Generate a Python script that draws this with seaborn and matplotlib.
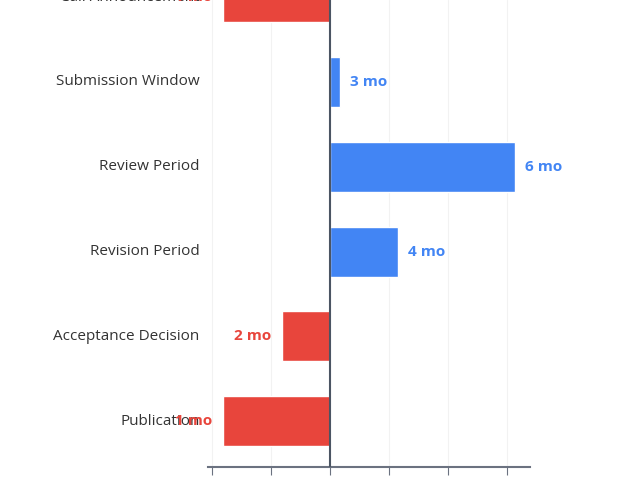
import pandas as pd
import seaborn as sns
import matplotlib.pyplot as plt

stages = ['Call Announcement', 'Submission Window', 'Review Period',
          'Revision Period', 'Acceptance Decision', 'Publication']
values = [-1.81, 0.17, 3.14, 1.15, -0.81, -1.81]
labels = ['1 mo', '3 mo', '6 mo', '4 mo', '2 mo', '1 mo']

df = pd.DataFrame({'stage': stages, 'value': values, 'label': labels})
red, blue = '#E8453C', '#4285F4'
df['color'] = [red if v < 0 else blue for v in values]

sns.set_style('white')
plt.rcParams['font.family'] = ['Open Sans', 'DejaVu Sans']

fig = plt.figure(figsize=(6.4, 4.8), dpi=100)
ax = fig.add_axes([0.325, 0.027, 0.503, 0.973])

sns.barplot(data=df, y='stage', x='value', hue='stage', palette=list(df['color']),
            orient='h', width=0.59, legend=False, ax=ax, saturation=1)

ax.set_xlim(-2.07, 3.39)
ax.set_ylim(5.54, 0.035)
ax.set_xticks([-2, -1, 0, 1, 2, 3])
ax.set_xticklabels([])
ax.tick_params(axis='x', length=6, color='#6b7280', direction='out', bottom=True)
ax.set_yticks([])
ax.grid(axis='x', color='#f2f2f2', linewidth=0.8)
ax.set_axisbelow(True)
for s in ['top', 'right', 'left']:
    ax.spines[s].set_visible(False)
ax.spines['bottom'].set_color('#6b7280')
ax.spines['bottom'].set_linewidth(1.5)
ax.axvline(0, color='#4b5563', linewidth=1.5, zorder=3)
ax.set_xlabel('')
ax.set_ylabel('')

for i, row in df.iterrows():
    ax.annotate(row['stage'], (-2.07, i), xytext=(-6, 0), textcoords='offset points',
                ha='right', va='center', color='#333333', fontsize=11,
                annotation_clip=False)
    if row['value'] >= 0:
        ax.annotate(row['label'], (row['value'], i), xytext=(7, 0), textcoords='offset points',
                    ha='left', va='center', color=row['color'], fontsize=11,
                    fontweight='bold', annotation_clip=False)
    else:
        ax.annotate(row['label'], (row['value'], i), xytext=(-8, 0), textcoords='offset points',
                    ha='right', va='center', color=row['color'], fontsize=11,
                    fontweight='bold', annotation_clip=False)

fig.savefig('out.png', dpi=100)
